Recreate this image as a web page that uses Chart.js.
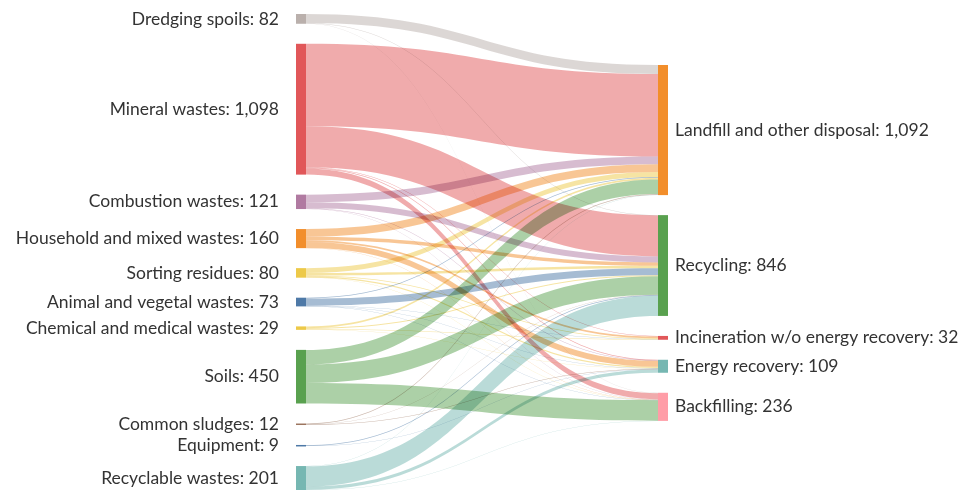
<!DOCTYPE html>
<html>
<head>
<meta charset="utf-8">
<script src="https://cdn.jsdelivr.net/npm/chart.js@4.4.1/dist/chart.umd.min.js"></script>
<style>
  html, body { margin: 0; background: #fff; }
  #wrap { width: 962px; height: 491px; }
</style>
</head>
<body>
<div id="wrap"><canvas id="chart"></canvas></div>
<script>
// Waste streams (left) and treatment (right)
const sources = ['Dredging spoils', 'Mineral wastes', 'Combustion wastes', 'Household and mixed wastes',
  'Sorting residues', 'Animal and vegetal wastes', 'Chemical and medical wastes', 'Soils',
  'Common sludges', 'Equipment', 'Recyclable wastes'];
const sourceColors = ['#bab0ac', '#e15759', '#b07aa1', '#f28e2b', '#edc948', '#4e79a7',
  '#edc948', '#59a14f', '#9c755f', '#4e79a7', '#76b7b2'];

const targets = ['Landfill and other disposal', 'Recycling', 'Incineration w/o energy recovery',
  'Energy recovery', 'Backfilling'];
const targetColors = ['#f28e2b', '#59a14f', '#e15759', '#76b7b2', '#ff9da7'];

// flows, one value per source (same order as sources)
const toLandfill     = [76, 693, 65, 65, 41,  7, 13, 123, 5, 2,   2];
const toRecycling    = [ 3, 344, 50, 28, 20, 60,  8, 155, 3, 5, 170];
const toIncineration = [ 0,   4,  0, 15,  6,  2,  5,   0, 0, 0,   0];
const toEnergy       = [ 0,   5,  3, 50, 12,  3,  3,   0, 3, 2,  28];
const toBackfilling  = [ 3,  52,  3,  2,  1,  1,  0, 172, 1, 0,   1];
const flows = [toLandfill, toRecycling, toIncineration, toEnergy, toBackfilling];

// layout (value units on the y scale)
const NODE_PAD = 168;
const RIGHT_OFFSET = 428;
const NODE_W = 10;

const sourceTotals = sources.map((s, i) => flows.reduce((a, f) => a + f[i], 0));
const targetTotals = flows.map(f => f.reduce((a, b) => a + b, 0));
const grandTotal = sourceTotals.reduce((a, b) => a + b, 0);
const Y_MAX = grandTotal + NODE_PAD * (sources.length - 1);

function stack(totals, start) {
  let y = start;
  return totals.map(t => { const n = { y0: y, y1: y + t }; y += t + NODE_PAD; return n; });
}

const fmt = v => v.toLocaleString('en-US');

const sankeyPlugin = {
  id: 'sankey',
  afterDatasetsDraw(chart) {
    const ctx = chart.ctx;
    const xs = chart.scales.x, ys = chart.scales.y;
    const left = stack(sourceTotals, 0);
    const right = stack(targetTotals, RIGHT_OFFSET);
    const xL = xs.getPixelForValue(0), xR = xs.getPixelForValue(1);
    const x0 = xL + NODE_W, x1 = xR - NODE_W, xm = (x0 + x1) / 2;

    // links: ordered by target at the source, by source at the target
    const srcOff = left.map(n => n.y0);
    const tgtOff = right.map(n => n.y0);
    const links = [];
    sources.forEach((s, i) => {
      flows.forEach((f, j) => {
        const v = f[i];
        if (!v) return;
        links.push({ i, j, sy: srcOff[i], ty: 0, v });
        srcOff[i] += v;
      });
    });
    flows.forEach((f, j) => {
      links.filter(l => l.j === j).forEach(l => { l.ty = tgtOff[j]; tgtOff[j] += l.v; });
    });

    ctx.save();
    ctx.globalCompositeOperation = 'multiply';
    ctx.globalAlpha = 0.5;
    links.forEach(l => {
      const a0 = ys.getPixelForValue(l.sy), a1 = ys.getPixelForValue(l.sy + l.v);
      const b0 = ys.getPixelForValue(l.ty), b1 = ys.getPixelForValue(l.ty + l.v);
      ctx.beginPath();
      ctx.moveTo(x0, a0);
      ctx.bezierCurveTo(xm, a0, xm, b0, x1, b0);
      ctx.lineTo(x1, b1);
      ctx.bezierCurveTo(xm, b1, xm, a1, x0, a1);
      ctx.closePath();
      ctx.fillStyle = sourceColors[l.i];
      ctx.fill();
    });
    ctx.restore();

    // nodes + labels
    ctx.save();
    ctx.font = '17.5px Lato, "Open Sans", sans-serif';
    ctx.textBaseline = 'middle';
    left.forEach((n, i) => {
      const p0 = ys.getPixelForValue(n.y0), p1 = ys.getPixelForValue(n.y1);
      ctx.fillStyle = sourceColors[i];
      ctx.fillRect(xL, p0, NODE_W, Math.max(p1 - p0, 1.5));
      ctx.fillStyle = '#333';
      ctx.textAlign = 'right';
      ctx.fillText(sources[i] + ': ' + fmt(sourceTotals[i]), xL - 17, (p0 + p1) / 2);
    });
    right.forEach((n, j) => {
      const p0 = ys.getPixelForValue(n.y0), p1 = ys.getPixelForValue(n.y1);
      ctx.fillStyle = targetColors[j];
      ctx.fillRect(x1, p0, NODE_W, Math.max(p1 - p0, 1.5));
      ctx.fillStyle = '#333';
      ctx.textAlign = 'left';
      ctx.fillText(targets[j] + ': ' + fmt(targetTotals[j]), xR + 7, (p0 + p1) / 2);
    });
    ctx.restore();
  }
};

new Chart(document.getElementById('chart'), {
  type: 'scatter',
  data: { datasets: [] },
  options: {
    responsive: true,
    maintainAspectRatio: false,
    animation: false,
    layout: { padding: { left: 296, right: 294, top: 14, bottom: 1 } },
    plugins: { legend: { display: false }, tooltip: { enabled: false } },
    scales: {
      x: { type: 'linear', min: 0, max: 1, display: false },
      y: { type: 'linear', min: 0, max: Y_MAX, reverse: true, display: false }
    }
  },
  plugins: [sankeyPlugin]
});
</script>
</body>
</html>
